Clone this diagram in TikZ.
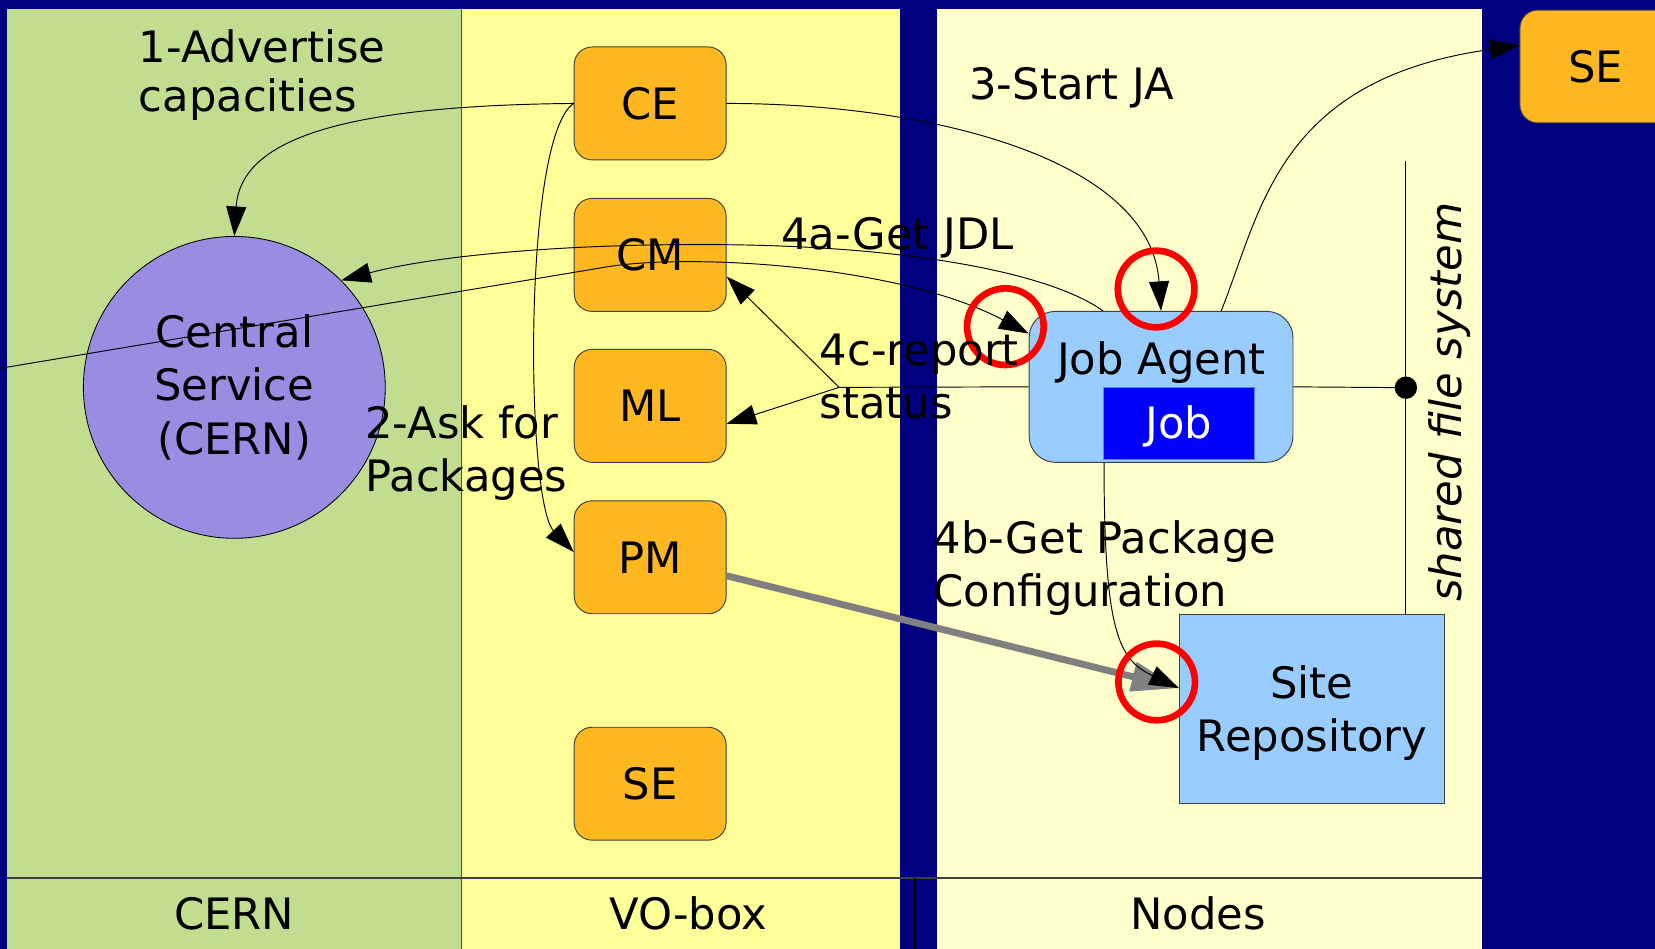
\documentclass[tikz,border=0pt]{standalone}
\usepackage{fontspec}
\setmainfont{DejaVu Sans}
\usetikzlibrary{arrows.meta,calc}

\definecolor{navy}{HTML}{000080}
\definecolor{cerngreen}{HTML}{C0DD90}
\definecolor{voyellow}{HTML}{FFFF99}
\definecolor{nodecream}{HTML}{FFFFCC}
\definecolor{boxorange}{HTML}{FFB820}
\definecolor{servlilac}{HTML}{998CE2}
\definecolor{agentblue}{HTML}{99CCFF}
\definecolor{jobblue}{HTML}{0000FF}
\definecolor{jobedge}{HTML}{5A82FF}
\definecolor{pkggray}{HTML}{808080}
\definecolor{ringred}{HTML}{FF0000}
\definecolor{edgegray}{HTML}{404040}

\tikzset{
  bigfont/.style={font=\fontsize{41}{50}\selectfont},
  svcbox/.style={draw=black!75, line width=0.9pt, fill=boxorange,
    rounded corners=17pt, minimum width=144pt, minimum height=107pt,
    inner sep=0pt, bigfont},
  flow/.style={line width=0.9pt, -{Triangle[length=28pt,width=19pt]}},
  plainline/.style={line width=0.9pt},
  pkgflow/.style={draw=pkggray, line width=6.5pt,
    -{Triangle[length=45pt,width=27pt]}},
  ring/.style={draw=ringred, line width=6.3pt},
  lbl/.style={bigfont, inner sep=0pt, align=left, anchor=base west},
  ctext/.style={bigfont, inner sep=0pt, anchor=base},
}

\begin{document}
\begin{tikzpicture}[x=1pt,y=-1pt]
\useasboundingbox (0,0) rectangle (1568,899);
\clip (0,0) rectangle (1568,899);

% lanes
\fill[navy] (0,0) rectangle (1568,899);
\fill[cerngreen] (7,9) rectangle (437.5,899);
\fill[voyellow] (437.5,9) rectangle (853,899);
\fill[nodecream] (888,9) rectangle (1404,899);
\draw[line width=0.8pt, black!70] (437.5,9) -- (437.5,899);
\draw[line width=1.4pt, edgegray] (7,832) -- (1404,832);
\draw[line width=2pt, black] (867,832) -- (867,899);

% services
\node[svcbox] (ce) at (616,98) {CE};
\node[svcbox] (cm) at (616,241.5) {CM};
\node[svcbox] (ml) at (616,384.5) {ML};
\node[svcbox] (pm) at (616,528) {PM};
\node[svcbox] (se) at (616,742.5) {SE};
\node[svcbox] (set) at (1512,63) {SE};

\node[circle, draw=black, line width=0.8pt, fill=servlilac,
      minimum size=286pt, inner sep=0pt, align=center,
      font=\fontsize{41}{51}\selectfont]
      (cs) at (222,367) {Central\\Service\\(CERN)};

\node[draw=edgegray, line width=0.9pt, fill=agentblue, rounded corners=25pt,
      minimum width=250pt, minimum height=143pt] (ja) at (1100,366.5) {};
\node[fill=jobblue, draw=jobedge, line width=0.8pt,
      minimum width=142.5pt, minimum height=68.5pt] (job) at (1116.8,401.3) {};
\node[draw=edgegray, line width=0.9pt, fill=agentblue,
      minimum width=251pt, minimum height=179.3pt, align=center,
      text depth=0pt, bigfont] (repo) at (1243,671.4) {Site\\Repository};

\coordinate (dot) at (1332,367.3);
\coordinate (fstop) at (1332,153);
\coordinate (lft) at (0,349);
\coordinate (jn) at (795,367);

% flows
\draw[flow] (ce.west) .. controls (330,100) and (228,130) .. (cs.north);
\draw[flow] (ce.east) .. controls (880,98) and (1090,150) .. (ja.north);
\draw[flow] (ce.west) .. controls (495,130) and (498,475) .. ([yshift=5pt]pm.west);
\draw[flow] ([xshift=-55pt]ja.north) .. controls (1000,262) and (880,235) .. (700,232)
            .. controls (560,229.7) and (420,240) .. (cs.45);
\draw[flow] (lft) -- (574,253) .. controls (650,240) and (850,250) .. ([yshift=50.5pt]ja.west);
\draw[plainline] (ja.west) -- (jn);
\draw[flow] (jn) -- ([yshift=-20.5pt]cm.east);
\draw[flow] (jn) -- ([yshift=-17pt]ml.east);
\draw[flow] ([xshift=57pt]ja.north) .. controls (1195,200) and (1210,75) .. ([yshift=20pt]set.west);

% shared file system
\draw[plainline] (ja.east) -- (dot);
\draw[plainline] (fstop) -- (dot) -- (fstop |- repo.north);
\fill (dot) circle [radius=10.6pt];

% packages
\draw[pkgflow] ([yshift=-17.5pt]pm.east) -- ([yshift=19.4pt]repo.west);
\draw[flow] ([xshift=-54pt]ja.south) .. controls (1046,600) and (1060,625) .. ([yshift=19.4pt]repo.west);

% highlights
\draw[ring] (952.5,309.5) circle [radius=36.3pt];
\draw[ring] (1095.3,273.8) circle [radius=36.3pt];
\draw[ring] (1095.9,646.1) circle [radius=36.3pt];

% labels (base anchor sits on the last line)
\node[lbl, font=\fontsize{41}{46}\selectfont] (adv) at (131.3,105.4) {1-Advertise\\capacities};
\node[lbl] (startja) at (918.3,94) {3-Start JA};
\node[lbl] (getjdl) at (740,236.7) {4a-Get JDL};
\node[lbl] (report) at (776.5,396.2) {4c-report\\status};
\node[lbl] (ask) at (346,465.4) {2-Ask for\\Packages};
\node[lbl] (getpkg) at (884.4,574.6) {4b-Get Package\\Configuration};

\node[ctext] (jatext) at (1100.3,355) {Job Agent};
\node[ctext, text=white] (jobtext) at (1117,415) {Job};
\node[ctext, rotate=90, font={\fontsize{41}{50}\selectfont\itshape}] (sfs) at (1385,381) {shared file system};

\node[ctext] (cern) at (222,881) {CERN};
\node[ctext] (vobox) at (652,881) {VO-box};
\node[ctext] (nodes) at (1135,881) {Nodes};
\end{tikzpicture}
\end{document}
